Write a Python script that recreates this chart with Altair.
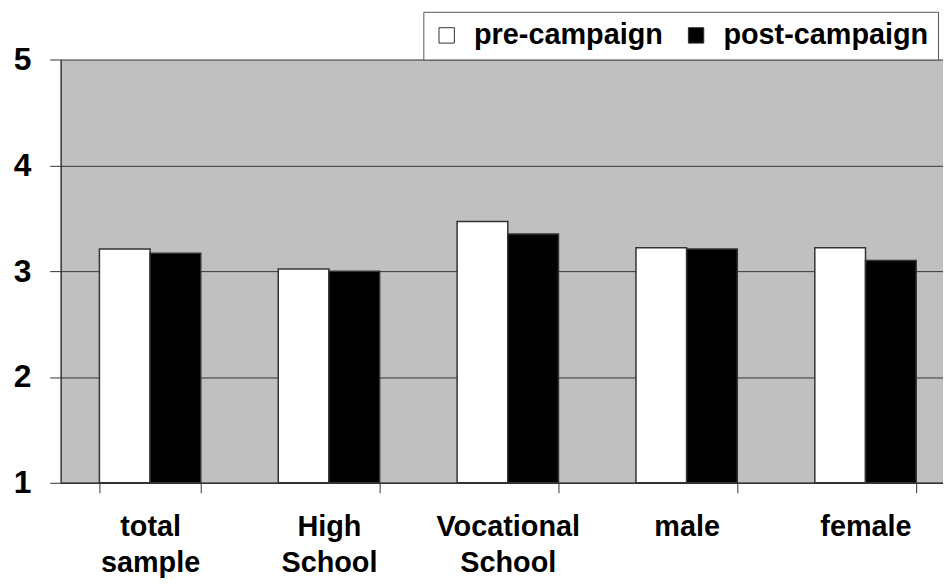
import altair as alt
import pandas as pd

categories = ["total sample", "High School", "Vocational School", "male", "female"]
pre_values = [3.21, 3.02, 3.47, 3.22, 3.22]
post_values = [3.17, 3.00, 3.35, 3.21, 3.10]
series = ["pre-campaign", "post-campaign"]
series_colors = ["#ffffff", "#000000"]
y_ticks = [1, 2, 3, 4, 5]

rows = []
for c, a, b in zip(categories, pre_values, post_values):
    rows.append({"group": c, "campaign": series[0], "score": a})
    rows.append({"group": c, "campaign": series[1], "score": b})
df = pd.DataFrame(rows)

FONT = "Liberation Sans"

chart = alt.Chart(df).mark_bar(stroke="#333333", strokeWidth=1.5).encode(
    x=alt.X(
        "group:N",
        sort=categories,
        title=None,
        scale=alt.Scale(paddingInner=0.4333, paddingOuter=0.21667, range=[0, 900]),
        axis=alt.Axis(
            labelAngle=0,
            labelExpr="split(datum.label, ' ')",
            tickBand="extent",
            tickSize=10,
            tickColor="#333333",
            domainColor="#333333",
            domainWidth=1.5,
            labelFont=FONT,
            labelFontSize=29,
            labelFontWeight="bold",
            labelColor="#000000",
            labelPadding=20,
            labelLineHeight=36,
            labelBaseline="top",
        ),
    ),
    xOffset=alt.XOffset(
        "campaign:N", sort=series, scale=alt.Scale(paddingInner=0, paddingOuter=0)
    ),
    y=alt.Y(
        "score:Q",
        title=None,
        scale=alt.Scale(domain=[1, 5], nice=False, zero=False),
        axis=alt.Axis(
            values=y_ticks,
            format="d",
            tickSize=11,
            tickColor="#333333",
            domainColor="#333333",
            domainWidth=1.5,
            grid=True,
            gridColor="#333333",
            gridWidth=1,
            labelFont=FONT,
            labelFontSize=32,
            labelFontWeight="bold",
            labelColor="#000000",
            labelPadding=19,
        ),
    ),
    y2=alt.datum(1),
    color=alt.Color(
        "campaign:N",
        sort=series,
        scale=alt.Scale(domain=series, range=series_colors),
        legend=alt.Legend(
            title=None,
            orient="none",
            legendX=365,
            legendY=-48,
            direction="horizontal",
            fillColor="#ffffff",
            strokeColor="#555555",
            padding=9,
            symbolType="square",
            symbolSize=240,
            symbolStrokeColor="#333333",
            symbolStrokeWidth=1,
            labelFont=FONT,
            labelFontSize=29,
            labelFontWeight="bold",
            labelColor="#000000",
            labelOffset=13,
            labelLimit=0,
            columnPadding=18,
        ),
    ),
).properties(
    width=888,
    height=426,
    autosize=alt.AutoSizeParams(type="none"),
    padding={"left": 53, "top": 50, "right": 0, "bottom": 94},
    background="#ffffff",
).configure_view(fill="#C0C0C0", stroke="transparent")

chart.save("out.html", embed_options={"renderer": "svg", "actions": False})
